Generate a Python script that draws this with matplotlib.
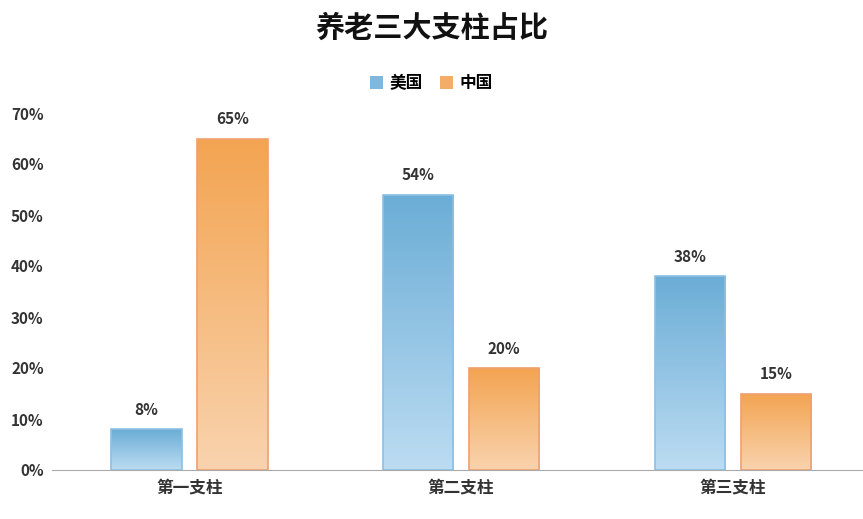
import matplotlib
matplotlib.use("Agg")
import matplotlib.pyplot as plt
import numpy as np
from matplotlib.patches import Rectangle, Patch
from matplotlib.colors import LinearSegmentedColormap

plt.rcParams['font.family'] = ['Noto Sans CJK SC', 'DejaVu Sans']

categories = ['第一支柱', '第二支柱', '第三支柱']
us = [8, 54, 38]
cn = [65, 20, 15]
labels = ['美国', '中国']

fig = plt.figure(figsize=(8.63, 5.19), dpi=100)
ax = fig.add_axes([52/863, 49/519, 810/863, (470-113)/519])
ax.set_xlim(-0.505, 2.475)
ax.set_ylim(0, 70)

blue_cm = LinearSegmentedColormap.from_list('b', ['#bcdcf2', '#6badd6'])
orange_cm = LinearSegmentedColormap.from_list('o', ['#f9d3ae', '#f3a451'])
grad = np.linspace(0, 1, 256).reshape(-1, 1)
w = 0.26
off = 0.158
for i in range(len(categories)):
    for vals, cm, edge, dx in [(us, blue_cm, '#8cc0e3', -off), (cn, orange_cm, '#f0a070', off)]:
        x0 = i + dx - w/2
        v = vals[i]
        im = ax.imshow(grad, cmap=cm, origin='lower', aspect='auto',
                       extent=(x0, x0 + w, 0, v), zorder=2)
        r = Rectangle((x0, 0), w, v, facecolor='none', edgecolor=edge, lw=1.2, zorder=3)
        ax.add_patch(r)
        im.set_clip_path(r)
        ax.text(i + dx, v + 2.2, f'{v}%', ha='center', va='bottom', fontsize=11,
                color='#333333', fontweight='bold')

ax.set_xticks(range(len(categories)))
ax.set_xticklabels(categories, fontsize=12, fontweight='bold', color='#333333')
ax.set_yticks(range(0, 71, 10))
ax.set_yticklabels([f'{t}%' for t in range(0, 71, 10)], fontsize=11, fontweight='bold', color='#333333')
ax.tick_params(length=0, pad=6)
for s in ['top', 'right', 'left']:
    ax.spines[s].set_visible(False)
ax.spines['bottom'].set_color('#aaaaaa')

fig.text(0.5, 1 - 28/519, '养老三大支柱占比', ha='center', va='center', fontsize=21,
         fontweight='bold', color='#111111')
handles = [Patch(facecolor='#7fb8de'), Patch(facecolor='#f4ad68')]
fig.legend(handles, labels, loc='center', bbox_to_anchor=(0.5, 1 - 83/519), ncol=2,
           frameon=False, prop={'weight': 'bold', 'size': 12}, handlelength=0.8,
           handleheight=0.8, columnspacing=1.0, handletextpad=0.4)
fig.savefig('out.png', dpi=100, facecolor='white')
